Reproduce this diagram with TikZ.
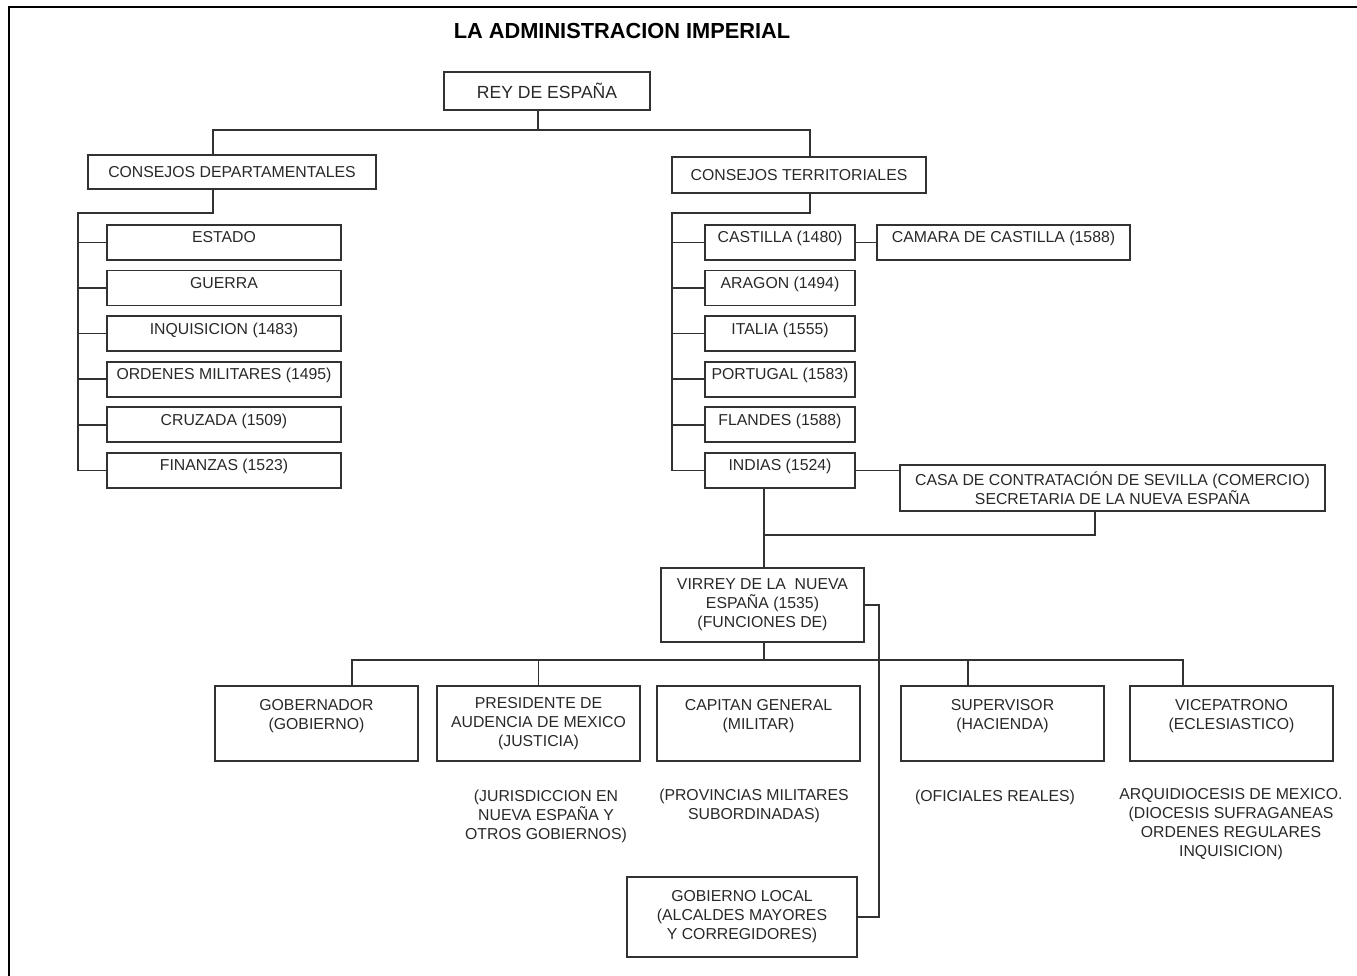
\documentclass[tikz,border=0pt]{standalone}
\usepackage{fontspec}
\setmainfont{Liberation Sans}
\usetikzlibrary{positioning}
\usepackage{xcolor}
\definecolor{lineColor}{RGB}{50,50,50}
\definecolor{textColor}{RGB}{40,40,40}
\newcommand{\orgfont}{\fontsize{9}{10.8}\selectfont}
\newcommand{\kingfont}{\fontsize{10}{12}\selectfont}
\newcommand{\titlefont}{\fontsize{12.4}{14}\selectfont\bfseries}

\begin{document}
\begin{tikzpicture}[x=0.02cm, y=-0.02cm,
        unit/.style={draw=lineColor, line width=0.9pt, text=textColor, font=\orgfont, inner sep=0pt, minimum height=0.7cm},
        council/.style={unit, minimum width=4.68cm, text height=0.36cm, text depth=0.34cm},
        realm/.style={council, minimum width=3cm},
        office/.style={unit, align=center, minimum width=4.06cm, minimum height=1.5cm},
        note/.style={align=center, text=textColor, font=\orgfont, inner sep=0pt},
        link/.style={draw=lineColor, line width=0.9pt},
        node distance=0.18cm
      ]
      \useasboundingbox (0,0) rectangle (1357,976);
      \draw[line width=1.3pt, black] (9,976) -- (9,7) -- (1357,7);

      \node[font=\titlefont, text=black] (title) at (622,31) {LA ADMINISTRACION IMPERIAL};
      \node[unit, font=\kingfont, minimum width=4.12cm, minimum height=0.76cm] (rey) at (547,91) {REY DE ESPAÑA};

      \node[unit, minimum width=5.76cm, minimum height=0.68cm] (condep) at (232,172) {CONSEJOS DEPARTAMENTALES};
      \node[unit, minimum width=5.08cm, minimum height=0.72cm] (conter) at (799,175) {CONSEJOS TERRITORIALES};

      % consejos departamentales
      \node[council] (estado) at (224,242.5) {ESTADO};
      \node[council, below=of estado] (guerra) {GUERRA};
      \node[council, below=of guerra] (inquis) {INQUISICION (1483)};
      \node[council, below=of inquis] (ordenes) {ORDENES MILITARES (1495)};
      \node[council, below=of ordenes] (cruzada) {CRUZADA (1509)};
      \node[council, below=of cruzada] (finanzas) {FINANZAS (1523)};

      % consejos territoriales
      \node[realm] (castilla) at (780,242.5) {CASTILLA (1480)};
      \node[realm, below=of castilla] (aragon) {ARAGON (1494)};
      \node[realm, below=of aragon] (italia) {ITALIA (1555)};
      \node[realm, below=of italia] (portugal) {PORTUGAL (1583)};
      \node[realm, below=of portugal] (flandes) {FLANDES (1588)};
      \node[realm, below=of flandes] (indias) {INDIAS (1524)};
      \node[council, minimum width=5.06cm, right=0.41cm of castilla] (camara) {CAMARA DE CASTILLA (1588)};
      \node[unit, align=center, minimum width=8.5cm, minimum height=0.92cm] (casa) at (1112.5,488) {CASA DE CONTRATACIÓN DE SEVILLA (COMERCIO)\\SECRETARIA DE LA NUEVA ESPAÑA};

      \node[office, minimum height=1.48cm] (virrey) at (762.5,605) {VIRREY DE LA\ \ NUEVA\\ESPAÑA (1535)\\(FUNCIONES DE)};

      \node[office] (gob) at (316.5,723.5) {GOBERNADOR\\(GOBIERNO)\\~};
      \node[office] (pres) at (538.5,723.5) {PRESIDENTE DE\\AUDENCIA DE MEXICO\\(JUSTICIA)};
      \node[office] (capitan) at (758.5,723.5) {CAPITAN GENERAL\\(MILITAR)\\~};
      \node[office] (sup) at (1002.5,723.5) {SUPERVISOR\\(HACIENDA)\\~};
      \node[office] (vice) at (1231.5,723.5) {VICEPATRONO\\(ECLESIASTICO)\\~};

      \node[note] (jurisd) at (546,816) {(JURISDICCION EN\\NUEVA ESPAÑA Y\\OTROS GOBIERNOS)};
      \node[note] (provin) at (754,806) {(PROVINCIAS MILITARES\\SUBORDINADAS)};
      \node[note] (oficiales) at (995,797) {(OFICIALES REALES)};
      \node[note] (diocesis) at (1231,824) {ARQUIDIOCESIS DE MEXICO.\\(DIOCESIS SUFRAGANEAS\\ORDENES REGULARES\\INQUISICION)};

      \node[office, minimum width=4.6cm, minimum height=1.6cm] (gobloc) at (742,917) {GOBIERNO LOCAL\\(ALCALDES MAYORES\\Y CORREGIDORES)};

      % junctions
      \coordinate (reyJ) at (538,130);
      \coordinate (barL) at (213,130);
      \coordinate (barR) at (810,130);
      \coordinate (depJ) at (213,213);
      \coordinate (spineL) at (78,213);
      \coordinate (terJ) at (810,213);
      \coordinate (spineR) at (672,213);
      \coordinate (casaJ) at (1095,535);
      \coordinate (virJ) at (764,660);
      \coordinate (barA) at (352,660);
      \coordinate (barB) at (1183,660);
      \coordinate (supJ) at (968,660);
      \coordinate (locJ) at (879,605);

      \draw[link] (reyJ |- rey.south) -- (reyJ);
      \draw[link] (condep.north -| barL) -- (barL) -- (barR) -- (conter.north -| barR);

      \draw[link] (condep.south -| depJ) -- (depJ) -- (spineL) |- (finanzas.west);
      \draw[link] (spineL |- estado.west) -- (estado.west);
      \draw[link] (spineL |- guerra.west) -- (guerra.west);
      \draw[link] (spineL |- inquis.west) -- (inquis.west);
      \draw[link] (spineL |- ordenes.west) -- (ordenes.west);
      \draw[link] (spineL |- cruzada.west) -- (cruzada.west);

      \draw[link] (conter.south -| terJ) -- (terJ) -- (spineR) |- (indias.west);
      \draw[link] (spineR |- castilla.west) -- (castilla.west);
      \draw[link] (spineR |- aragon.west) -- (aragon.west);
      \draw[link] (spineR |- italia.west) -- (italia.west);
      \draw[link] (spineR |- portugal.west) -- (portugal.west);
      \draw[link] (spineR |- flandes.west) -- (flandes.west);
      \draw[link] (castilla.east) -- (camara.west);
      \draw[link] (indias.east) -- (indias.east -| casa.west);

      \draw[link] (indias.south -| virJ) -- (virrey.north -| virJ);
      \draw[link] (casa.south -| casaJ) -- (casaJ) -- (casaJ -| virJ);

      \draw[link] (virrey.south -| virJ) -- (virJ);
      \draw[link] (gob.north -| barA) -- (barA) -- (barB) -- (vice.north -| barB);
      \draw[link] (pres.north) -- (pres.north |- barA);
      \draw[link] (supJ) -- (supJ |- sup.north);
      \draw[link] (virrey.east) -| (locJ |- gobloc.east) -- (gobloc.east);
    \end{tikzpicture}
\end{document}
